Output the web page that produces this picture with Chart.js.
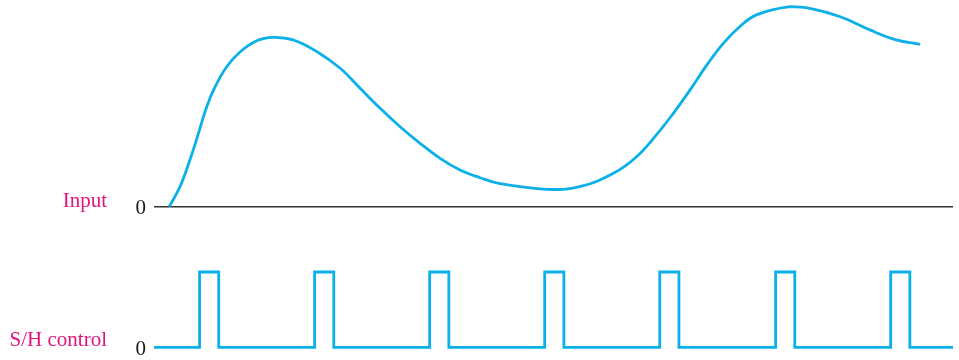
<!DOCTYPE html>
<html lang="en">
<head>
  <meta charset="UTF-8" />
  <title>Sample and hold</title>
  <style>
    body {
      margin: 0;
      background: white;
    }

    .wrap {
      position: relative;
      width: 959px;
      height: 360px;
    }

    .panel {
      position: absolute;
      left: 0;
      width: 959px;
    }

    .label {
      position: absolute;
      right: 852px; /* right edge of the text sits at x = 107 */
      font-family: "Liberation Serif", "Times New Roman", serif;
      font-size: 21px;
      line-height: 21px;
      color: #e4147f;
      white-space: nowrap;
    }
  </style>
  <script src="https://cdn.jsdelivr.net/npm/chart.js"></script>
</head>
<body>

  <div class="wrap">
    <div class="panel" style="top:0;height:230px"><canvas id="inputChart"></canvas></div>
    <div class="panel" style="top:250px;height:110px"><canvas id="shChart"></canvas></div>
    <span class="label" style="top:190px">Input</span>
    <span class="label" style="top:329px">S/H control</span>
  </div>

  <script>
    // time axis runs 0..100, the input level 0..10, the control level 0..1
    const inputTime  = [1.9, 3.25, 4.5, 5.55, 6.6, 7.65, 9.1, 10.8, 12.85, 14.9, 17.4, 20.4, 23.3, 25.8, 28.3,
                        30.8, 33.3, 35.8, 38.3, 40.8, 43.3, 49.2, 53.3, 57.5, 60.4, 62.9, 65.0, 67.1,
                        69.2, 71.25, 73.3, 75.4, 79.6, 82.1, 85.9, 89.6, 92.9, 95.9];
    const inputLevel = [0, 1.0, 2.35, 3.65, 5.0, 6.0, 7.0, 7.75, 8.3, 8.47, 8.34, 7.75, 6.92, 5.92, 4.92,
                        4.0, 3.17, 2.42, 1.84, 1.45, 1.15, 0.87, 1.0, 1.67, 2.5, 3.6, 4.67, 5.84,
                        7.09, 8.17, 9.0, 9.59, 10.0, 9.92, 9.5, 8.84, 8.34, 8.12];

    // sample pulses: rising and falling edges
    const pulseRise = [5.7, 20.1, 34.5, 48.9, 63.3, 77.8, 92.2];
    const pulseFall = [8.1, 22.5, 36.9, 51.3, 65.7, 80.2, 94.6];
    const timeEnd = 100;

    const yTickValues = [0];

    const lineColor = "#0bb0e8";
    const serif = "'Liberation Serif', 'Times New Roman', serif";

    // step series for the control signal
    const shPoints = [{ x: 0, y: 0 }];
    pulseRise.forEach((t, i) => {
      shPoints.push({ x: t, y: 1 });
      shPoints.push({ x: pulseFall[i], y: 0 });
    });
    shPoints.push({ x: timeEnd, y: 0 });

    const inputPoints = inputTime.map((t, i) => ({ x: t, y: inputLevel[i] }));

    function yAxis(max, gridOn) {
      return {
        type: "linear",
        min: 0,
        max: max,
        afterBuildTicks: axis => {
          axis.ticks = yTickValues.map(v => ({ value: v }));
        },
        afterFit: axis => {
          axis.width = 154;
          // the lone "0" label must not push the plot area around
          axis.paddingTop = 0;
          axis.paddingBottom = 0;
        },
        ticks: {
          padding: 8,
          labelOffset: 2,
          color: "#1a1a1a",
          font: { family: serif, size: 21 },
          callback: v => String(v)
        },
        grid: {
          display: gridOn,
          drawTicks: false,
          color: "#333333",
          lineWidth: 1.6
        },
        border: { display: false }
      };
    }

    function xAxis() {
      return { type: "linear", min: 0, max: timeEnd, display: false };
    }

    const common = {
      responsive: true,
      maintainAspectRatio: false,
      animation: false,
      events: [],
      plugins: { legend: { display: false }, tooltip: { enabled: false } }
    };

    new Chart(document.getElementById("inputChart"), {
      type: "line",
      data: {
        datasets: [{
          data: inputPoints,
          borderColor: lineColor,
          borderWidth: 2.8,
          pointRadius: 0,
          tension: 0.4,
          fill: false,
          clip: false
        }]
      },
      options: {
        ...common,
        layout: { padding: { left: 0, right: 6, top: 6.7, bottom: 23.3 } },
        scales: { x: xAxis(), y: yAxis(10, true) }
      }
    });

    new Chart(document.getElementById("shChart"), {
      type: "line",
      data: {
        datasets: [{
          data: shPoints,
          borderColor: lineColor,
          borderWidth: 2.8,
          pointRadius: 0,
          stepped: true,
          fill: false,
          clip: false
        }]
      },
      options: {
        ...common,
        layout: { padding: { left: 0, right: 6, top: 22, bottom: 12.7 } },
        scales: { x: xAxis(), y: yAxis(1, false) }
      }
    });
  </script>
</body>
</html>
